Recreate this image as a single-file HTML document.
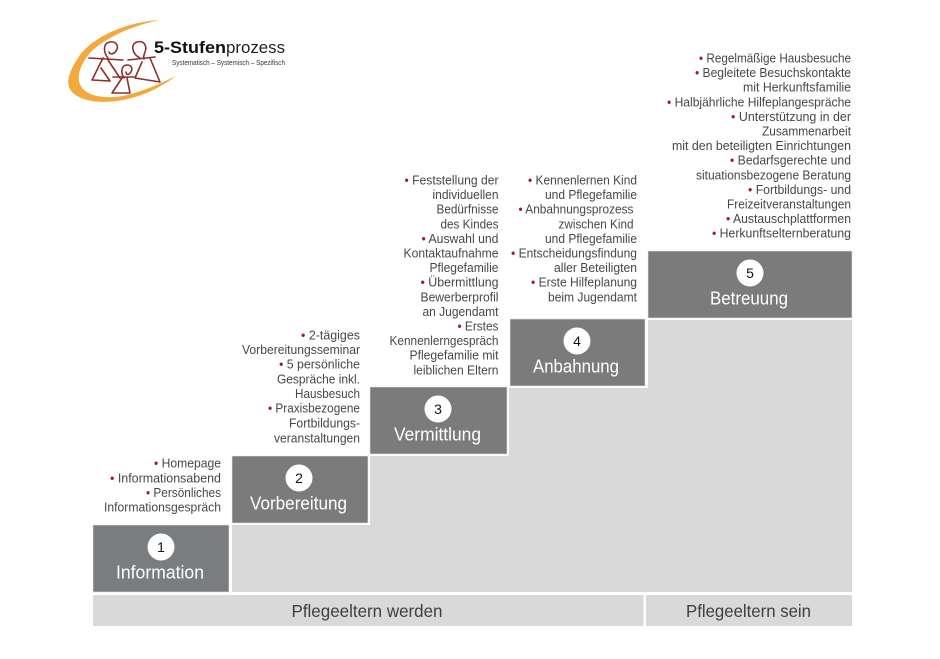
<!DOCTYPE html>
<html lang="de">
<head>
<meta charset="utf-8">
<title>5-Stufenprozess</title>
<style>
html,body{margin:0;padding:0;background:#fff}
svg{display:block;font-family:"Liberation Sans",sans-serif;filter:blur(.3px)}
.t text{font-size:13px;fill:#474747;text-anchor:end}
.t tspan{fill:#a01c22}
.b{fill:#7b7b7b;stroke:#e4e4e4;stroke-width:.6}
.l{font-size:18.5px;fill:#fff;text-anchor:middle}
.n{font-size:14px;fill:#111;text-anchor:middle}
.f{font-size:17.5px;fill:#3f3f3f;text-anchor:middle}
.fig{fill:none;stroke:#8c2f2b;stroke-width:1.6;stroke-linecap:round;stroke-linejoin:round}
</style>
</head>
<body>
<svg width="940" height="659" viewBox="0 0 940 659" xmlns="http://www.w3.org/2000/svg">
<rect width="940" height="659" fill="#fff"/>

<!-- Logo -->
<path d="M160,20 C125,22 90,38 78,58 C68,73 65,85 72,92 C82,102 100,103 117,101 C140,98 160,88 176,76 C160,84 135,95 115,97 C100,98 88,95 82,88 C75,78 80,65 90,53 C105,37 135,25 160,20 Z" fill="#f4a93f"/>
<g class="fig">
<path d="M108,58 C103,52 103,43 110,42 C117,41 119,47 116,51 C114,54 110,55 109,52"/>
<path d="M89,58 L123,60"/>
<path d="M103,58 L92,80 L110,81 L101,68"/>
<path d="M108,60 L120,78"/>
<path d="M140,58 C132,54 130,44 137,42 C145,40 147,47 145,52 C144,55 143,57 144,59"/>
<path d="M128,60 L155,57"/>
<path d="M150,58 L160,82 L135,78 L142,62"/>
<path d="M124,78 C120,72 122,65 127,65 C133,65 133,71 129,74 C127,75 126,74 126,72"/>
<path d="M113,77 H134"/>
<path d="M122,78 L112,93 H130 L127,78"/>
</g>
<text x="154" y="53" font-size="16.500" fill="#111" font-weight="bold" textLength="72" lengthAdjust="spacingAndGlyphs">5-Stufen</text>
<text x="226" y="53" font-size="17" fill="#222" textLength="59" lengthAdjust="spacingAndGlyphs">prozess</text>
<text x="172" y="65" font-size="7" fill="#333" textLength="113" lengthAdjust="spacingAndGlyphs">Systematisch – Systemisch – Spezifisch</text>

<!-- Background staircase -->
<path d="M232,525 H370 V456 H509 V388 H648 V320 H852 V592 H232 Z" fill="#d9d9d9"/>
<rect x="93" y="595" width="550.500" height="31" fill="#d9d9d9"/>
<rect x="646" y="595" width="206" height="31" fill="#d9d9d9"/>

<!-- Steps -->
<rect class="b" x="93" y="525" width="136" height="67" style="fill:#7a7d7f"/>
<rect class="b" x="232" y="456" width="136" height="67"/>
<rect class="b" x="370" y="387" width="137" height="67"/>
<rect class="b" x="510" y="319" width="135" height="67"/>
<rect class="b" x="648" y="251" width="204" height="67"/>

<circle cx="161" cy="547" r="13.500" fill="#fff"/>
<circle cx="299" cy="478" r="13.500" fill="#fff"/>
<circle cx="438" cy="409" r="13.500" fill="#fff"/>
<circle cx="577" cy="341" r="13.500" fill="#fff"/>
<circle cx="750" cy="273" r="13.500" fill="#fff"/>

<text class="n" x="161" y="552">1</text>
<text class="n" x="299" y="483">2</text>
<text class="n" x="438" y="414">3</text>
<text class="n" x="577" y="346">4</text>
<text class="n" x="750" y="278">5</text>

<text class="l" x="160" y="578.500" textLength="88" lengthAdjust="spacingAndGlyphs">Information</text>
<text class="l" x="298.500" y="509.500" textLength="97" lengthAdjust="spacingAndGlyphs">Vorbereitung</text>
<text class="l" x="437.500" y="440.500" textLength="87" lengthAdjust="spacingAndGlyphs">Vermittlung</text>
<text class="l" x="576" y="372.500" textLength="86" lengthAdjust="spacingAndGlyphs">Anbahnung</text>
<text class="l" x="749" y="304.500" textLength="78" lengthAdjust="spacingAndGlyphs">Betreuung</text>

<text class="f" x="367" y="617" textLength="151" lengthAdjust="spacingAndGlyphs">Pflegeeltern werden</text>
<text class="f" x="748.500" y="617" textLength="125" lengthAdjust="spacingAndGlyphs">Pflegeeltern sein</text>

<g class="t">
<!-- Column 1 -->
<text x="221" y="467.500" textLength="67" lengthAdjust="spacingAndGlyphs"><tspan>•</tspan> Homepage</text>
<text x="221" y="482.500" textLength="111" lengthAdjust="spacingAndGlyphs"><tspan>•</tspan> Informationsabend</text>
<text x="221" y="497" textLength="75" lengthAdjust="spacingAndGlyphs"><tspan>•</tspan> Persönliches</text>
<text x="221" y="511.500" textLength="117" lengthAdjust="spacingAndGlyphs">Informationsgespräch</text>

<!-- Column 2 -->
<text x="360" y="339.500" textLength="59" lengthAdjust="spacingAndGlyphs"><tspan>•</tspan> 2-tägiges</text>
<text x="360" y="354" textLength="118" lengthAdjust="spacingAndGlyphs">Vorbereitungsseminar</text>
<text x="360" y="368.500" textLength="81" lengthAdjust="spacingAndGlyphs"><tspan>•</tspan> 5 persönliche</text>
<text x="360" y="383.500" textLength="83" lengthAdjust="spacingAndGlyphs">Gespräche inkl.</text>
<text x="360" y="398" textLength="65" lengthAdjust="spacingAndGlyphs">Hausbesuch</text>
<text x="360" y="412.500" textLength="92" lengthAdjust="spacingAndGlyphs"><tspan>•</tspan> Praxisbezogene</text>
<text x="360" y="427.500" textLength="71" lengthAdjust="spacingAndGlyphs">Fortbildungs-</text>
<text x="360" y="442.500" textLength="86" lengthAdjust="spacingAndGlyphs">veranstaltungen</text>

<!-- Column 3 -->
<text x="498.500" y="184.500" textLength="94" lengthAdjust="spacingAndGlyphs"><tspan>•</tspan> Feststellung der</text>
<text x="498.500" y="199.100" textLength="66" lengthAdjust="spacingAndGlyphs">individuellen</text>
<text x="498.500" y="213.700" textLength="62" lengthAdjust="spacingAndGlyphs">Bedürfnisse</text>
<text x="498.500" y="228.300" textLength="58" lengthAdjust="spacingAndGlyphs">des Kindes</text>
<text x="498.500" y="242.900" textLength="77" lengthAdjust="spacingAndGlyphs"><tspan>•</tspan> Auswahl und</text>
<text x="498.500" y="257.500" textLength="95" lengthAdjust="spacingAndGlyphs">Kontaktaufnahme</text>
<text x="498.500" y="272.100" textLength="69" lengthAdjust="spacingAndGlyphs">Pflegefamilie</text>
<text x="498.500" y="286.700" textLength="78" lengthAdjust="spacingAndGlyphs"><tspan>•</tspan> Übermittlung</text>
<text x="498.500" y="301.300" textLength="78" lengthAdjust="spacingAndGlyphs">Bewerberprofil</text>
<text x="498.500" y="315.900" textLength="76" lengthAdjust="spacingAndGlyphs">an Jugendamt</text>
<text x="498.500" y="330.500" textLength="41" lengthAdjust="spacingAndGlyphs"><tspan>•</tspan> Erstes</text>
<text x="498.500" y="345.100" textLength="109" lengthAdjust="spacingAndGlyphs">Kennenlerngespräch</text>
<text x="498.500" y="359.700" textLength="89" lengthAdjust="spacingAndGlyphs">Pflegefamilie mit</text>
<text x="498.500" y="374.300" textLength="85" lengthAdjust="spacingAndGlyphs">leiblichen Eltern</text>

<!-- Column 4 -->
<text x="637" y="184.500" textLength="109" lengthAdjust="spacingAndGlyphs"><tspan>•</tspan> Kennenlernen Kind</text>
<text x="637" y="199.100" textLength="92" lengthAdjust="spacingAndGlyphs">und Pflegefamilie</text>
<text x="633.500" y="213.700" textLength="115" lengthAdjust="spacingAndGlyphs"><tspan>•</tspan> Anbahnungsprozess</text>
<text x="633.500" y="228.300" textLength="75" lengthAdjust="spacingAndGlyphs">zwischen Kind</text>
<text x="637" y="242.900" textLength="92" lengthAdjust="spacingAndGlyphs">und Pflegefamilie</text>
<text x="637" y="257.500" textLength="126" lengthAdjust="spacingAndGlyphs"><tspan>•</tspan> Entscheidungsfindung</text>
<text x="637" y="272.100" textLength="83" lengthAdjust="spacingAndGlyphs">aller Beteiligten</text>
<text x="637" y="286.700" textLength="106" lengthAdjust="spacingAndGlyphs"><tspan>•</tspan> Erste Hilfeplanung</text>
<text x="637" y="301.300" textLength="89" lengthAdjust="spacingAndGlyphs">beim Jugendamt</text>

<!-- Column 5 -->
<text x="851" y="62.500" textLength="152" lengthAdjust="spacingAndGlyphs"><tspan>•</tspan> Regelmäßige Hausbesuche</text>
<text x="851" y="77.100" textLength="156" lengthAdjust="spacingAndGlyphs"><tspan>•</tspan> Begleitete Besuchskontakte</text>
<text x="851" y="91.700" textLength="108" lengthAdjust="spacingAndGlyphs">mit Herkunftsfamilie</text>
<text x="851" y="106.300" textLength="184" lengthAdjust="spacingAndGlyphs"><tspan>•</tspan> Halbjährliche Hilfeplangespräche</text>
<text x="851" y="120.900" textLength="120" lengthAdjust="spacingAndGlyphs"><tspan>•</tspan> Unterstützung in der</text>
<text x="851" y="135.500" textLength="89" lengthAdjust="spacingAndGlyphs">Zusammenarbeit</text>
<text x="851" y="150.100" textLength="179" lengthAdjust="spacingAndGlyphs">mit den beteiligten Einrichtungen</text>
<text x="851" y="164.700" textLength="121" lengthAdjust="spacingAndGlyphs"><tspan>•</tspan> Bedarfsgerechte und</text>
<text x="851" y="179.300" textLength="155" lengthAdjust="spacingAndGlyphs">situationsbezogene Beratung</text>
<text x="851" y="193.900" textLength="103" lengthAdjust="spacingAndGlyphs"><tspan>•</tspan> Fortbildungs- und</text>
<text x="851" y="208.500" textLength="124" lengthAdjust="spacingAndGlyphs">Freizeitveranstaltungen</text>
<text x="851" y="223.100" textLength="125" lengthAdjust="spacingAndGlyphs"><tspan>•</tspan> Austauschplattformen</text>
<text x="851" y="237.700" textLength="139" lengthAdjust="spacingAndGlyphs"><tspan>•</tspan> Herkunftselternberatung</text>
</g>
</svg>
</body>
</html>
